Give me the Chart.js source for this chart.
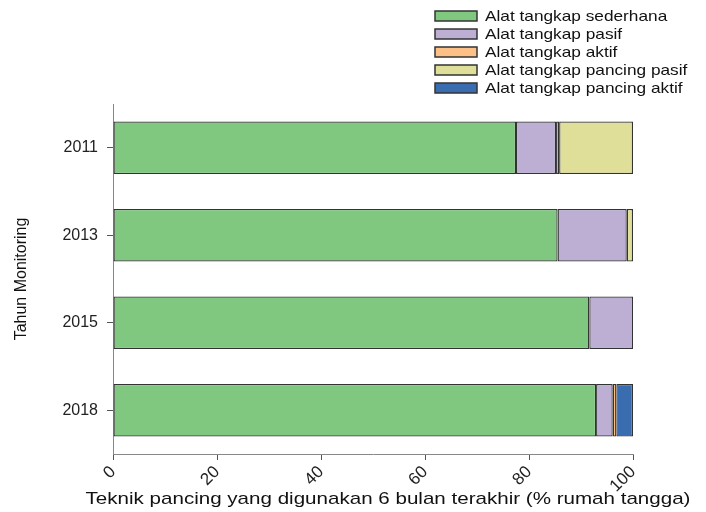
<!DOCTYPE html>
<html>
<head>
<meta charset="utf-8">
<script src="https://cdn.jsdelivr.net/npm/chart.js@4/dist/chart.umd.min.js"></script>
<style>
  html, body { margin: 0; padding: 0; background: #fff; }
  #wrap { width: 706px; height: 512px; }
</style>
</head>
<body>
<div id="wrap"><canvas id="teknik-chart" width="706" height="512"></canvas></div>
<script>
const years = ["2011", "2013", "2015", "2018"];

const sederhana = [77.5, 85.5, 91.6, 92.9];
const pasif = [7.7, 13.3, 8.4, 3.2];
const aktif = [0.6, 0, 0, 0.7];
const pancingPasif = [14.2, 1.2, 0, 0];
const pancingAktif = [0, 0, 0, 3.2];

const xTicks = [0, 20, 40, 60, 80, 100];
const xTitle = "Teknik pancing yang digunakan 6 bulan terakhir (% rumah tangga)";

const seriesNames = [
    "Alat tangkap sederhana",
    "Alat tangkap pasif",
    "Alat tangkap aktif",
    "Alat tangkap pancing pasif",
    "Alat tangkap pancing aktif",
];
const seriesColors = ["#80c880", "#bdaed4", "#fdc086", "#e0df9a", "#3a6db0"];
const seriesData = [sederhana, pasif, aktif, pancingPasif, pancingAktif];

const FONT = "'Liberation Sans', Arial, sans-serif";

// the reference text is stretched sideways, so draw it with a horizontal scale
function wideText(ctx, text, x, y, stretch, align) {
    ctx.save();
    ctx.translate(x, y);
    ctx.scale(stretch, 1);
    ctx.textAlign = align;
    ctx.fillText(text, 0, 0);
    ctx.restore();
}

// legend as one column in the top right corner, plus the wide x title
const extras = {
    id: "extras",
    afterDraw(chart) {
        const ctx = chart.ctx;
        ctx.save();
        ctx.textBaseline = "middle";
        ctx.font = "15px " + FONT;
        chart.data.datasets.forEach((ds, i) => {
            const y = 16 + i * 18;
            ctx.fillStyle = ds.backgroundColor;
            ctx.fillRect(435, y - 5, 42, 10);
            ctx.strokeStyle = "#333";
            ctx.lineWidth = 1.5;
            ctx.strokeRect(435, y - 5, 42, 10);
            ctx.fillStyle = "#111";
            wideText(ctx, ds.label, 485, y + 1, 1.15, "left");
        });
        const xs = chart.scales.x;
        ctx.font = "17px " + FONT;
        wideText(ctx, xTitle, (xs.left + xs.right) / 2 + 15, 499, 1.21, "center");
        ctx.restore();
    },
};

const teknikCtx = document.getElementById("teknik-chart");

let teknikChart = new Chart(teknikCtx, {
    type: "bar",
    data: {
        labels: years,
        datasets: seriesNames.map((name, i) => ({
            label: name,
            data: seriesData[i],
            backgroundColor: seriesColors[i],
            borderColor: "#333",
            borderWidth: 1.3,
            borderSkipped: false,
            categoryPercentage: 1,
            barPercentage: 0.6,
        })),
    },
    options: {
        indexAxis: "y",
        responsive: false,
        animation: false,
        layout: {
            padding: { top: 104, right: 73, left: 0, bottom: 0 },
        },
        plugins: {
            legend: { display: false },
            tooltip: { enabled: false },
        },
        scales: {
            x: {
                stacked: true,
                min: 0,
                max: 100,
                afterBuildTicks: (scale) => {
                    scale.ticks = xTicks.map((v) => ({ value: v }));
                },
                afterFit: (scale) => {
                    scale.height = 58;
                },
                grid: {
                    display: true,
                    drawOnChartArea: false,
                    tickLength: 6,
                    color: "#555",
                },
                border: { color: "#888", width: 1 },
                ticks: {
                    minRotation: 45,
                    maxRotation: 45,
                    padding: 2,
                    color: "#222",
                    font: { family: FONT, size: 17 },
                },
            },
            y: {
                stacked: true,
                afterFit: (scale) => {
                    scale.width = 113;
                },
                grid: {
                    display: true,
                    drawOnChartArea: false,
                    offset: false,
                    tickLength: 6,
                    color: "#555",
                },
                border: { color: "#888", width: 1 },
                ticks: {
                    padding: 9,
                    color: "#222",
                    font: { family: FONT, size: 16 },
                },
                title: {
                    display: true,
                    text: "Tahun Monitoring",
                    color: "#111",
                    padding: { top: 12, bottom: 0 },
                    font: { family: FONT, size: 16 },
                },
            },
        },
    },
    plugins: [extras],
});
</script>
</body>
</html>
